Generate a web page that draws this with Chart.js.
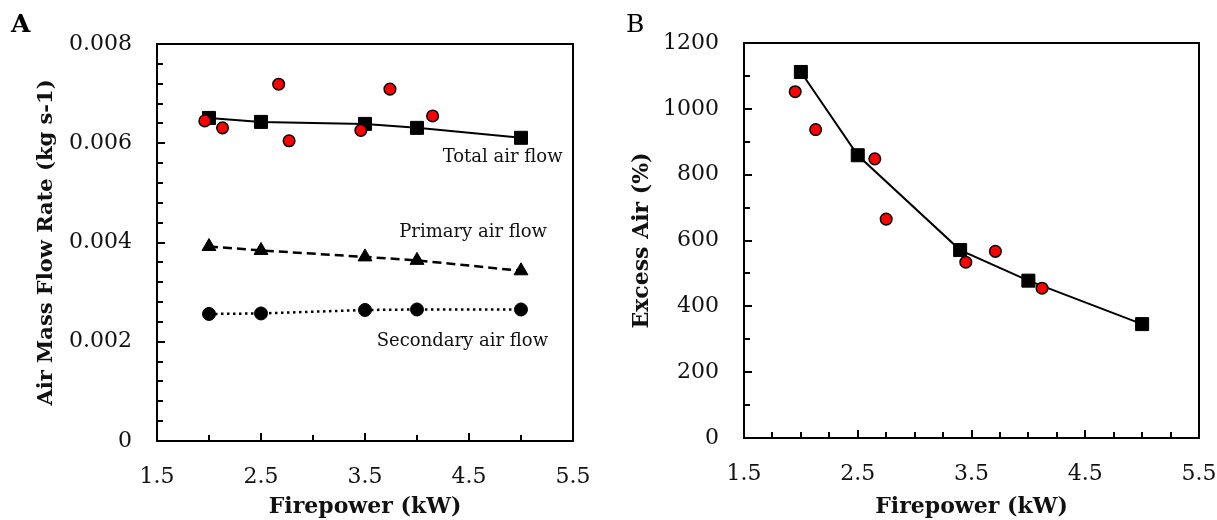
<!DOCTYPE html>
<html><head><meta charset="utf-8">
<script src="https://cdn.jsdelivr.net/npm/chart.js@4/dist/chart.umd.min.js"></script>
<style>
html,body{margin:0;padding:0;background:#fff;}
#wrap{position:relative;width:1217px;height:520px;overflow:hidden;background:#fff;}
.box{position:absolute;top:0;height:520px;}
#boxA{left:0;width:600px;}
#boxB{left:600px;width:617px;}
.panel{position:absolute;font-family:'DejaVu Serif',serif;color:#000;line-height:1;}
</style></head><body>
<div id="wrap">
<div class="box" id="boxA"><canvas id="cA" width="600" height="520"></canvas></div>
<div class="box" id="boxB"><canvas id="cB" width="617" height="520"></canvas></div>
<div class="panel" style="left:11px;top:11px;font-size:25px;font-weight:bold;">A</div>
<div class="panel" style="left:626px;top:11px;font-size:25px;">B</div>
</div>
<script>
// ---------- data (panel A) ----------
const measuredPowerA = [1.96, 2.13, 2.67, 2.77, 3.46, 3.74, 4.15];
const measuredAirFlow = [0.00645, 0.00631, 0.00719, 0.00605, 0.00626, 0.00709, 0.00655];
const modelPowerA = [2.0, 2.5, 3.5, 4.0, 5.0];
const totalAirFlow = [0.00651, 0.00643, 0.00639, 0.00631, 0.00611];
const primaryAirFlow = [0.00392, 0.00384, 0.00371, 0.00364, 0.00343];
const secondaryAirFlow = [0.00256, 0.00257, 0.00264, 0.00265, 0.00265];
// ---------- data (panel B) ----------
const measuredPowerB = [1.95, 2.13, 2.65, 2.75, 3.45, 3.71, 4.12];
const measuredExcessAir = [1052, 937, 848, 665, 534, 567, 455];
const modelPowerB = [2.0, 2.5, 3.4, 4.0, 5.0];
const excessAir = [1112, 859, 571, 478, 346];
// ---------- tick labels ----------
const xTickLabels = [1.5, 2.5, 3.5, 4.5, 5.5];
const yTickLabelsA = [0, 0.002, 0.004, 0.006, 0.008];
const yTickLabelsB = [0, 200, 400, 600, 800, 1000, 1200];
const seriesLabelsA = ['Total air flow', 'Primary air flow', 'Secondary air flow'];

Chart.defaults.font.family = "'DejaVu Serif', serif";
Chart.defaults.color = '#111';

function pts(xs, ys){ return xs.map((x,i)=>({x:x, y:ys[i]})); }
function range(a,b,s){ const r=[]; const n=Math.round((b-a)/s); for(let i=0;i<=n;i++) r.push(a+i*s); return r; }

const framePlugin = {
  id:'frame',
  beforeDatasetsDraw(chart, args, o){
    const {ctx, chartArea:a, scales:{x,y}} = chart;
    ctx.save();
    ctx.strokeStyle = '#000';
    ctx.lineWidth = 2;
    ctx.strokeRect(a.left, a.top, a.right-a.left, a.bottom-a.top);
    ctx.beginPath();
    const isMaj = (arr,v)=>arr.some(m=>Math.abs(m-v)<1e-9);
    o.xMinor.forEach(v=>{ const p=Math.round(x.getPixelForValue(v)); const L=isMaj(o.xMajor,v)?8:6; ctx.moveTo(p,a.bottom); ctx.lineTo(p,a.bottom-L); });
    o.yMinor.forEach(v=>{ const p=Math.round(y.getPixelForValue(v)); const L=isMaj(o.yMajor,v)?8:6; ctx.moveTo(a.left,p); ctx.lineTo(a.left+L,p); });
    ctx.stroke();
    ctx.restore();
  },
  afterDatasetsDraw(chart, args, o){
    if(!o.labels) return;
    const {ctx, scales:{x,y}} = chart;
    ctx.save();
    ctx.font = "18px 'DejaVu Serif', serif";
    ctx.fillStyle = '#111';
    ctx.textAlign = 'right';
    ctx.textBaseline = 'middle';
    o.labels.forEach(l=>{ ctx.fillText(l.text, x.getPixelForValue(l.x), y.getPixelForValue(l.y)); });
    ctx.restore();
  }
};

function xAxis(h){
  return {
    type:'linear', min:1.5, max:5.5,
    afterBuildTicks:s=>{ s.ticks = xTickLabels.map(v=>({value:v})); },
    afterFit:s=>{ s.height = h; s.paddingLeft = 0; s.paddingRight = 0; },
    grid:{display:false, drawTicks:false}, border:{display:false},
    ticks:{padding:23, font:{size:22}, color:'#111', maxRotation:0, autoSkip:false, callback:v=>Number(v).toFixed(1)},
    title:{display:true, text:'Firepower (kW)', font:{size:22, weight:'bold'}, color:'#111', padding:{top:0,bottom:0}}
  };
}
function yAxis(w, min, max, labels, fmt, title, tsize, tpad){
  return {
    type:'linear', min:min, max:max,
    afterBuildTicks:s=>{ s.ticks = labels.map(v=>({value:v})); },
    afterFit:s=>{ s.width = w; s.paddingTop = 0; s.paddingBottom = 0; },
    grid:{display:false, drawTicks:false}, border:{display:false},
    ticks:{padding:25, font:{size:22}, color:'#111', autoSkip:false, callback:fmt},
    title:{display:true, text:title, font:{size:tsize, weight:'bold'}, color:'#111', padding:{top:tpad,bottom:0}}
  };
}

const common = {
  responsive:false, animation:false, devicePixelRatio:1,
  events:[],
};

new Chart(document.getElementById('cA'), {
  type:'scatter',
  data:{datasets:[
    {label:'Measured', data:pts(measuredPowerA, measuredAirFlow), order:0, pointStyle:'circle', pointRadius:5.8, backgroundColor:'#ff0000', borderColor:'#000', borderWidth:1.5, showLine:false},
    {label:seriesLabelsA[0], data:pts(modelPowerA, totalAirFlow), order:1, showLine:true, borderColor:'#000', borderWidth:2, pointStyle:'rect', pointRadius:9.2, pointBackgroundColor:'#000', pointBorderColor:'#000', pointBorderWidth:1},
    {label:seriesLabelsA[1], data:pts(modelPowerA, primaryAirFlow), order:2, showLine:true, borderColor:'#000', borderWidth:2.5, borderDash:[9,5], pointStyle:'triangle', pointRadius:8, pointBackgroundColor:'#000', pointBorderColor:'#000', pointBorderWidth:1},
    {label:seriesLabelsA[2], data:pts(modelPowerA, secondaryAirFlow), order:3, showLine:true, borderColor:'#000', borderWidth:2.5, borderDash:[2.5,3.5], pointStyle:'circle', pointRadius:6.5, pointBackgroundColor:'#000', pointBorderColor:'#000', pointBorderWidth:1}
  ]},
  options:Object.assign({}, common, {
    layout:{padding:{top:44, right:27, left:0, bottom:0}},
    scales:{
      x:xAxis(79),
      y:yAxis(157, 0, 0.008, yTickLabelsA, v=>v===0?'0':Number(v).toFixed(3), 'Air Mass Flow Rate (kg s-1)', 21, 34)
    },
    plugins:{legend:{display:false}, tooltip:{enabled:false},
      frame:{xMinor:range(1.5,5.5,0.5), xMajor:xTickLabels, yMinor:range(0,0.008,0.0004), yMajor:yTickLabelsA,
        labels:[{text:seriesLabelsA[0], x:5.40, y:0.00572},{text:seriesLabelsA[1], x:5.25, y:0.00421},{text:seriesLabelsA[2], x:5.26, y:0.00200}]}
    }
  }),
  plugins:[framePlugin]
});

new Chart(document.getElementById('cB'), {
  type:'scatter',
  data:{datasets:[
    {label:'Measured', data:pts(measuredPowerB, measuredExcessAir), order:0, pointStyle:'circle', pointRadius:5.8, backgroundColor:'#ff0000', borderColor:'#000', borderWidth:1.5, showLine:false},
    {label:'Excess air', data:pts(modelPowerB, excessAir), order:1, showLine:true, borderColor:'#000', borderWidth:2, pointStyle:'rect', pointRadius:9.2, pointBackgroundColor:'#000', pointBorderColor:'#000', pointBorderWidth:1}
  ]},
  options:Object.assign({}, common, {
    layout:{padding:{top:43, right:18, left:0, bottom:0}},
    scales:{
      x:xAxis(82),
      y:yAxis(144, 0, 1200, yTickLabelsB, v=>String(v), 'Excess Air (%)', 22, 29)
    },
    plugins:{legend:{display:false}, tooltip:{enabled:false},
      frame:{xMinor:range(1.5,5.5,0.25), xMajor:xTickLabels, yMinor:range(0,1200,100), yMajor:yTickLabelsB}
    }
  }),
  plugins:[framePlugin]
});
</script>
</body></html>
